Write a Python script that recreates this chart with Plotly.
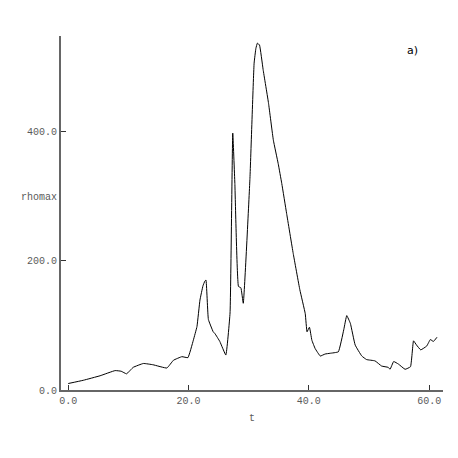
import plotly.graph_objects as go

t = [0.0, 2.5, 5.3, 7.8, 8.8, 9.7, 10.8, 12.5, 14.1, 16.4, 17.5, 18.9, 19.9, 20.8, 21.4,
     21.9, 22.4, 22.7, 22.9, 23.3, 24.1, 24.4, 25.2, 26.2, 26.9, 27.35, 27.7, 28.3,
     28.7, 29.1, 30.2, 30.9, 31.2, 31.45, 31.8, 32.4, 33.3, 34.1, 34.9, 35.5, 36.3, 37.4,
     38.5, 39.4, 39.7, 40.1, 40.5, 41.05, 41.9, 42.7, 43.5, 44.9, 45.8, 46.3, 46.9,
     47.7, 48.8, 49.6, 51.0, 52.1, 53.2, 53.5, 54.1, 54.9, 56.0, 56.9, 57.4, 57.9,
     58.6, 59.6, 60.2, 60.7, 61.3]
rhomax = [10, 15, 22, 30, 29, 25, 35, 41, 39, 34, 46, 51.5, 50, 77, 98,
          139, 161, 168, 170, 109, 90, 87, 75, 54, 119, 397, 319, 160,
          158, 134, 325, 505, 528, 536, 533, 495, 443, 386, 350, 319, 273, 211,
          155, 118, 90, 97, 77, 64, 52.5, 55.6, 56.7, 59, 93, 115, 103,
          69.5, 52.5, 47, 45, 37, 35, 32, 44, 40, 32, 36, 76, 69.5,
          62, 68, 78, 75, 81.5]

x_ticks = [0, 20, 40, 60]
y_ticks = [0, 200, 400]

mono = dict(family="Liberation Mono, Courier New, monospace", size=10, color="#5a5a5a")

fig = go.Figure()
fig.add_trace(go.Scatter(x=t, y=rhomax, mode="lines",
                         line=dict(color="black", width=1, shape="spline", smoothing=0.3),
                         showlegend=False))

fig.update_xaxes(range=[-1.2, 62.3], tickvals=x_ticks,
                 ticktext=["%.1f" % v for v in x_ticks],
                 showline=True, linecolor="#666666", linewidth=2,
                 ticks="inside", ticklen=5, tickcolor="#333333",
                 showgrid=False, zeroline=False, tickfont=mono)
fig.update_yaxes(range=[0, 547], tickvals=y_ticks,
                 ticktext=["%.1f" % v for v in y_ticks],
                 showline=True, linecolor="#666666", linewidth=2,
                 ticks="inside", ticklen=5, tickcolor="#333333",
                 showgrid=False, zeroline=False, tickfont=mono)

fig.add_annotation(text="rhomax", xref="paper", yref="paper", x=-0.005, y=0.545,
                   xanchor="right", yanchor="middle", showarrow=False, font=mono)
fig.add_annotation(text="t", xref="paper", yref="paper", x=0.50, y=-0.08,
                   xanchor="center", yanchor="middle", showarrow=False, font=mono)
fig.add_annotation(text="a)", xref="paper", yref="paper", x=0.92, y=0.96,
                   xanchor="center", yanchor="middle", showarrow=False,
                   font=dict(family="DejaVu Sans, sans-serif", size=11, color="black"))

# page body has an 8px margin, so shift the plot area back by that much
fig.update_layout(width=458, height=458, plot_bgcolor="white", paper_bgcolor="white",
                  margin=dict(l=53, r=23, t=28, b=76))
fig.write_html("out.html")
